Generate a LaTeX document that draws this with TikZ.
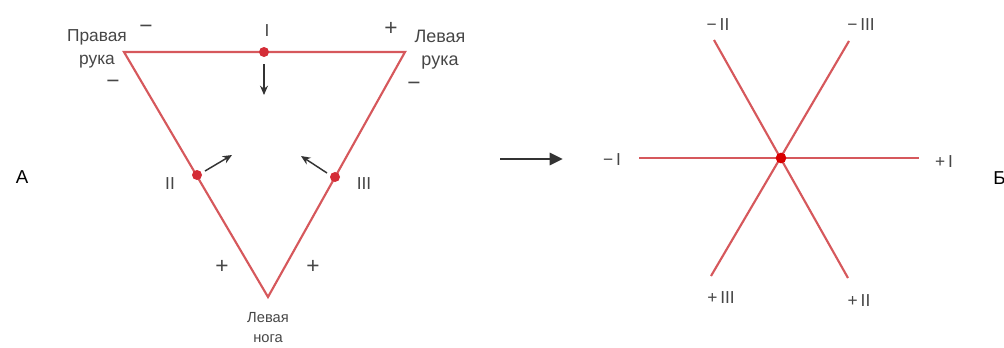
\documentclass[tikz,border=0pt]{standalone}
\usepackage{fontspec}
\setmainfont{Liberation Sans}
\usetikzlibrary{arrows.meta}
\definecolor{redline}{RGB}{214,88,92}
\definecolor{reddot}{RGB}{212,45,55}
\definecolor{txtgray}{RGB}{70,70,70}
\tikzset{
  redl/.style={draw=redline, line width=1.6pt},
  dotpt/.style={circle, fill=reddot, inner sep=0pt, minimum size=7.5pt},
  lab/.style={text=txtgray, font=\fontsize{13}{17}\selectfont, align=center, inner sep=0pt},
  sgn/.style={text=txtgray, font=\fontsize{17}{17}\selectfont, inner sep=0pt},
  rom/.style={text=txtgray, font=\fontsize{13}{13}\selectfont, inner sep=0pt},
  romr/.style={text=txtgray, font=\fontsize{13}{13}\selectfont, inner sep=0pt},
  big/.style={text=black, font=\fontsize{14}{14}\selectfont, inner sep=0pt},
  smarrow/.style={draw=black!80, line width=1.1pt, -{Stealth[length=7pt,width=6pt]}},
  bigarrow/.style={draw=black!80, line width=2.2pt, -{Triangle[length=10pt,width=9pt]}}
}
\begin{document}
\begin{tikzpicture}[x=0.75pt,y=-0.75pt]
\useasboundingbox (0,0) rectangle (1004,347);
% ---------- A: triangle ----------
\coordinate (RA) at (124,52);
\coordinate (LA) at (405,52);
\coordinate (LL) at (268,297);
\draw[redl, line join=miter] (RA) -- (LA) -- (LL) -- cycle;
\node[dotpt] (d1) at (264,52) {};
\node[dotpt] (d2) at (197,175) {};
\node[dotpt] (d3) at (335,177) {};
% arrows
\coordinate (a1s) at (264,64);  \coordinate (a1e) at (264,95);
\coordinate (a2s) at (205,171); \coordinate (a2e) at (232,155);
\coordinate (a3s) at (327,173); \coordinate (a3e) at (301,156);
\draw[smarrow] (a1s) -- (a1e);
\draw[smarrow] (a2s) -- (a2e);
\draw[smarrow] (a3s) -- (a3e);
% labels
\node[lab] (tRA) at (97,49) {Правая\\рука};
\node[lab, font=\fontsize{13.5}{17}\selectfont] (tLA) at (440,50) {Левая\\рука};
\node[lab, font=\fontsize{11}{15}\selectfont] (tLL) at (268,328) {Левая\\нога};
\node[sgn] (s1) at (146,29) {−};
\node[sgn] (s2) at (391,29) {+};
\node[sgn] (s3) at (113,84) {−};
\node[sgn] (s4) at (414,86) {−};
\node[sgn] (s5) at (222,267) {+};
\node[sgn] (s6) at (313,267) {+};
\node[rom] (r1) at (267,31) {I};
\node[rom] (r2) at (170,184) {II};
\node[rom] (r3) at (364,184) {III};
\node[big] (A) at (22,177) {А};
% ---------- transition arrow ----------
\coordinate (ba1) at (500,159);
\coordinate (ba2) at (563,159);
\draw[bigarrow] (ba1) -- (ba2);
% ---------- Б: hexaxial ----------
\coordinate (C) at (781,158);
\coordinate (pI)  at (919,158);
\coordinate (mI)  at (639,158);
\coordinate (mII) at (714,40);
\coordinate (pII) at (848,278);
\coordinate (mIII) at (849,41);
\coordinate (pIII) at (711,276);
\draw[redl] (mI) -- (pI);
\draw[redl] (mII) -- (pII);
\draw[redl] (mIII) -- (pIII);
\node[dotpt, minimum size=8pt, fill=red!85!black] (cd) at (C) {};
\node[romr] (lmI) at (612,160) {−\,I};
\node[romr] (lpI) at (944,162) {+\,I};
\node[romr] (lmII) at (718,25) {−\,II};
\node[romr] (lmIII) at (861,25) {−\,III};
\node[romr] (lpIII) at (721,298) {+\,III};
\node[romr] (lpII) at (859,301) {+\,II};
\node[big, anchor=west] (B) at (993,178) {Б};
\end{tikzpicture}
\end{document}
